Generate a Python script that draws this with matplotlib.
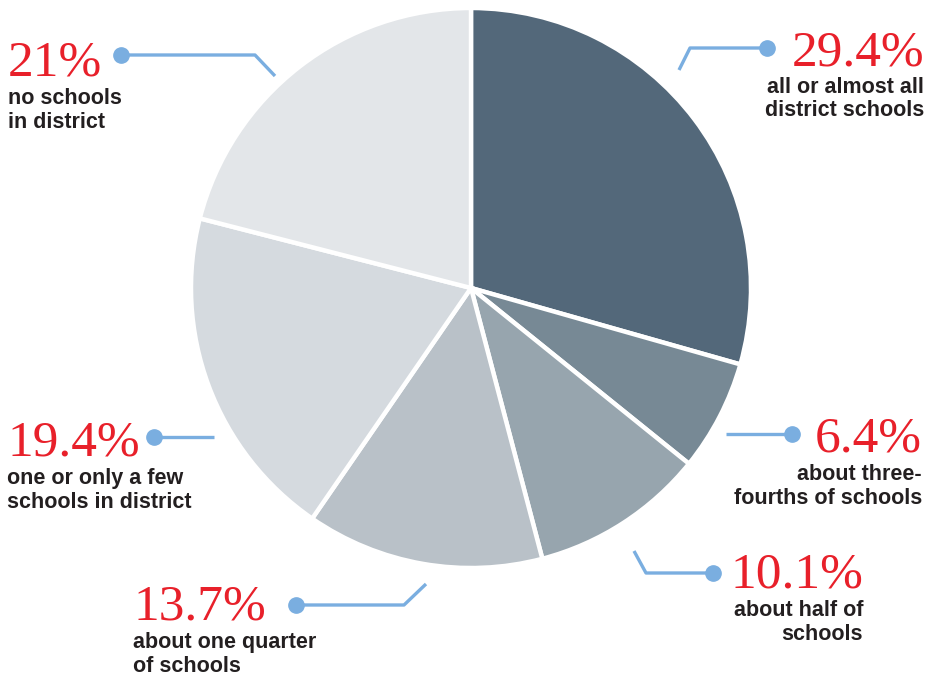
import matplotlib.pyplot as plt

# Data
# ----------------------------------------------------------------------------

shares = [29.4, 6.4, 10.1, 13.7, 19.4, 21.0]
pct_labels = ['29.4%', '6.4%', '10.1%', '13.7%', '19.4%', '21%']
descriptions = [
    ['all or almost all', 'district schools'],
    ['about three-', 'fourths of schools'],
    ['about half of', 'schools'],
    ['about one quarter', 'of schools'],
    ['one or only a few', 'schools in district'],
    ['no schools', 'in district'],
]
colors = ['#53687a', '#778995', '#97a5ae', '#b9c1c8', '#d5dadf', '#e3e6e9']

# Layout (pixel coordinates, origin top-left)
# ----------------------------------------------------------------------------

W, H = 932, 677
center = (471, 288)
radius = 280

red = '#e8202a'
blue = '#7aaee0'
dark = '#231f20'

# text anchor x, percent baseline y, alignment
text_pos = [
    (924, 65, 'right'),
    (922, 452, 'right'),
    (863, 588, 'right'),
    (133, 620, 'left'),
    (7, 456, 'left'),
    (8, 76, 'left'),
]
# leader paths: dot first
leaders = [
    [(767, 48), (690, 48), (679, 70)],
    [(792, 434), (726, 434)],
    [(713, 573), (646, 573), (634, 551)],
    [(296, 605), (404, 605), (426, 584)],
    [(154, 437), (214, 437)],
    [(121, 55), (255, 55), (275, 76)],
]
first_gap = 28
line_gap = 23.5

# Plot
# ----------------------------------------------------------------------------

fig = plt.figure(figsize=(W / 100, H / 100), dpi=100)
ax = fig.add_axes([0, 0, 1, 1])

# y axis is inverted below, so counterclock=True draws clockwise on screen
ax.pie(shares, colors=colors, startangle=-90, counterclock=True,
       center=center, radius=radius, frame=True,
       wedgeprops=dict(edgecolor='white', linewidth=3.2))
ax.set_xlim(0, W)
ax.set_ylim(H, 0)
ax.set_aspect('equal')
ax.axis('off')

for path in leaders:
    xs = [p[0] for p in path]
    ys = [p[1] for p in path]
    ax.plot(xs, ys, color=blue, lw=2.4, solid_capstyle='butt', zorder=3)
    ax.plot(xs[0], ys[0], 'o', color=blue, ms=11, zorder=4)

for pct, desc, (x, y, ha) in zip(pct_labels, descriptions, text_pos):
    ax.text(x, y, pct, color=red, ha=ha, va='baseline',
            family='Liberation Serif', fontsize=37)
    for i, line in enumerate(desc):
        ax.text(x, y + first_gap + i * line_gap, line, color=dark, ha=ha,
                va='baseline', family='Liberation Sans', weight='bold',
                fontsize=15.5)

fig.savefig('out.png', dpi=100)
